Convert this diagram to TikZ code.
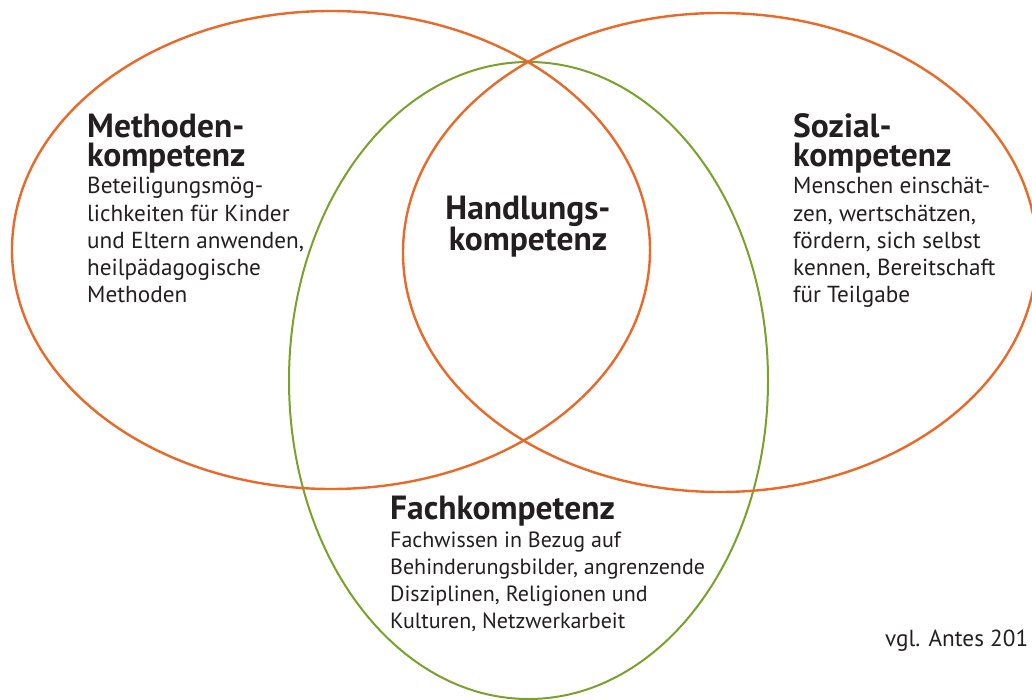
\documentclass[tikz,border=0pt]{standalone}
\usepackage{fontspec}
\setmainfont{PT Sans}
\usetikzlibrary{shapes.geometric}
\definecolor{vorange}{RGB}{233,105,40}
\definecolor{vgreen}{RGB}{122,161,42}
\definecolor{vtext}{RGB}{35,31,32}
\begin{document}
\begin{tikzpicture}[x=1pt,y=-1pt,
  ring/.style={draw, ellipse, inner sep=0pt, line width=2.4pt},
  head/.style={font=\bfseries\fontsize{33.5}{29.5}\selectfont, anchor=base west, inner sep=0pt, align=left, text=vtext},
  body/.style={font=\fontsize{23.2}{27}\selectfont, anchor=base west, inner sep=0pt, align=left, text=vtext}]
\path[use as bounding box, fill=white] (0,0) rectangle (1032,700);
\node[ring, draw=vgreen, line width=2pt, minimum width=479pt, minimum height=637pt] (fach) at (528.5,380.5) {};
\node[ring, draw=vorange, minimum width=638pt, minimum height=478pt] (methode) at (331,250) {};
\node[ring, draw=vorange, minimum width=634pt, minimum height=479pt] (sozial) at (720,252.5) {};
\node[head] (mh) at (87,167) {Methoden-\\kompetenz};
\node[body] (mb) at (87,302) {Beteiligungsmög-\\lichkeiten für Kinder\\und Eltern anwenden,\\heilpädagogische\\Methoden};
\node[head] (sh) at (793,167) {Sozial-\\kompetenz};
\node[body] (sb) at (793,302) {Menschen einschät-\\zen, wertschätzen,\\fördern, sich selbst\\kennen, Bereitschaft\\für Teilgabe};
\node[head, anchor=base, align=center] (hh) at (528,251) {Handlungs-\\kompetenz};
\node[head] (fh) at (390,519) {Fachkompetenz};
\node[body, font=\fontsize{22}{27}\selectfont] (fb) at (390,628) {Fachwissen in Bezug auf\\Behinderungsbilder, angrenzende\\Disziplinen, Religionen und\\Kulturen, Netzwerkarbeit};
\node[body] (src) at (885,646) {vgl. Antes 201};
\end{tikzpicture}
\end{document}
